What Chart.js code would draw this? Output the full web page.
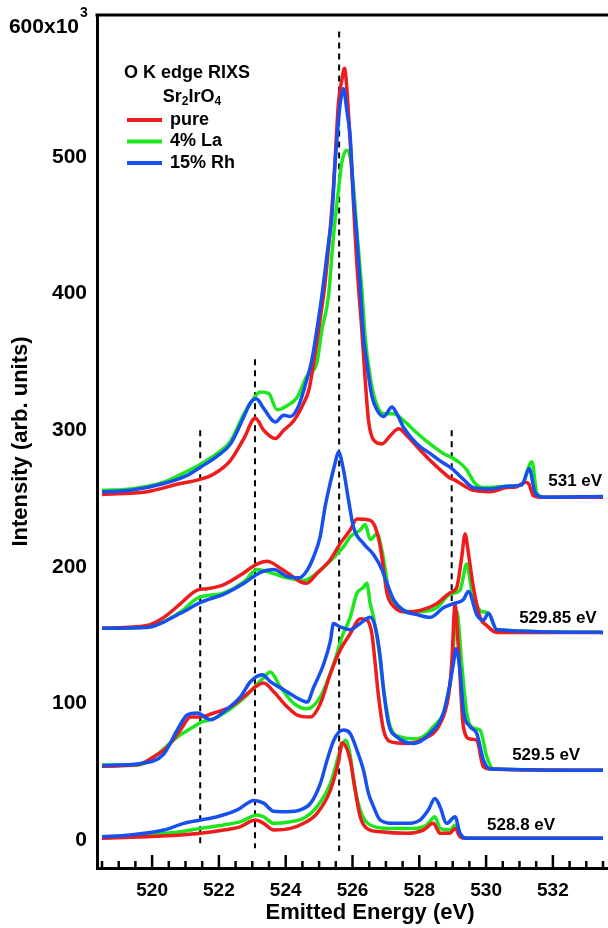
<!DOCTYPE html>
<html>
<head>
<meta charset="utf-8">
<script src="https://cdn.jsdelivr.net/npm/chart.js@4.4.0/dist/chart.umd.min.js"></script>
<style>
  html, body { margin: 0; padding: 0; background: #fff; }
  #wrap { width: 608px; height: 928px; position: relative; }
</style>
</head>
<body>
<div id="wrap"><canvas id="rixs"></canvas></div>
<script>
// [emitted energy (eV), intensity (x10^3)]
// 531 eV excitation
const pure531 = [[518.5,253],[519.85,255],[520.85,261],[521.35,263.5],[521.85,268],[522.35,278],[522.75,294],[523.09,309],[523.34,300],[523.69,294],[523.94,300],[524.24,307],[524.54,320],[524.7,330],[524.85,351],[525.03,381],[525.18,408],[525.33,447],[525.43,478],[525.51,512],[525.58,540],[525.68,556],[525.76,565],[525.88,532],[526.13,422],[526.28,373],[526.38,337],[526.48,307],[526.63,293],[526.88,290],[527.13,296],[527.38,301],[527.63,296],[527.93,288],[528.32,278],[528.72,269],[528.92,265],[529.02,264],[529.62,256],[530.12,255],[530.62,258],[530.92,258.6],[531.17,262],[531.27,261],[531.42,252],[531.62,251],[533.5,251]];
const la531 = [[518.5,256],[519.35,257],[520.35,262],[521.05,270],[521.45,275],[521.95,283],[522.35,292],[522.75,312],[522.95,320],[523.24,328],[523.49,327],[523.74,315],[524.04,318],[524.34,324],[524.64,340],[524.93,349],[525.08,373],[525.28,398],[525.43,442],[525.58,476],[525.68,496],[525.83,505],[525.93,500],[526.03,478],[526.13,446],[526.28,403],[526.38,368],[526.53,339],[526.68,322],[526.93,312],[527.23,312],[527.53,307],[527.93,298],[528.32,290],[528.72,283],[528.97,280],[529.22,276],[529.42,271],[529.67,261],[529.92,258],[530.62,259],[531.07,260],[531.37,277],[531.52,254],[531.72,251],[533.5,251]];
const rh531 = [[518.5,255],[519.35,256],[520.35,261],[521.05,267],[521.45,273],[521.95,281],[522.35,290],[522.75,310],[522.94,320],[523.12,323],[523.34,316],[523.69,306],[523.94,311],[524.14,310],[524.39,318],[524.62,336],[524.78,351],[524.93,373],[525.08,398],[525.18,417],[525.28,437],[525.38,456],[525.48,496],[525.53,512],[525.63,539],[525.73,550],[525.83,534],[525.93,515],[526.03,471],[526.13,442],[526.23,405],[526.33,368],[526.43,349],[526.58,325],[526.73,315],[526.93,310],[527.18,317],[527.33,312],[527.53,302],[527.93,290],[528.32,283],[528.72,276],[528.97,272],[529.32,264],[529.62,258],[530.12,257],[530.62,259],[531.07,260],[531.29,272],[531.47,254],[531.72,251],[533.5,251.5]];

// 529.85 eV excitation
const pure52985 = [[518.5,155],[519.85,157],[520.35,163],[520.85,173],[521.35,183],[521.65,184],[522.15,187],[522.65,194],[523.14,202],[523.44,204],[523.84,199],[524.14,194],[524.44,189],[524.63,188],[524.93,195],[525.33,205],[525.63,217],[525.93,227],[526.13,235],[526.53,234],[526.68,229],[526.83,215],[526.93,198],[527.03,181],[527.23,171],[527.63,167],[528.02,168],[528.52,173],[528.92,181],[529.12,185],[529.27,207],[529.37,224],[529.47,210],[529.62,185],[529.82,163],[530.02,157],[530.32,152],[533.5,152]];
const la52985 = [[518.5,155],[519.85,156],[520.85,167],[521.35,177],[522.15,181],[522.75,189],[523.14,198],[523.64,195],[524.04,192],[524.54,190],[525.14,200],[525.74,215],[525.93,222],[526.23,227],[526.38,231],[526.53,220],[526.73,224],[526.88,212],[526.98,198],[527.08,183],[527.33,171],[527.93,167],[528.52,170],[528.92,180],[529.22,183],[529.42,202],[529.57,183],[529.82,168],[530.07,166],[530.32,154],[533.5,152]];
const rh52985 = [[518.5,155],[519.85,155.6],[520.85,166],[521.45,174],[522.15,180],[522.75,188],[523.24,196],[523.64,198],[524.04,193],[524.4,192],[524.63,197],[524.83,207],[525.03,222],[525.18,244],[525.33,261],[525.48,276],[525.58,284],[525.73,271],[525.88,249],[526.03,229],[526.33,217],[526.63,209],[526.88,198],[527.03,188],[527.23,176],[527.53,168],[527.93,165],[528.32,163],[528.72,170],[529.02,173],[529.32,176],[529.47,182],[529.72,165],[529.92,161],[530.07,166],[530.32,154],[533.5,152]];

// 529.5 eV excitation
const pure5295 = [[518.5,54],[519.55,55],[520.05,61],[520.45,68],[520.85,80.5],[521.15,90],[521.45,90],[521.85,93],[522.35,97.6],[522.75,105],[523.14,113],[523.34,115],[523.64,108.6],[524.04,97.6],[524.34,91.5],[524.74,90],[525.04,100],[525.34,122],[525.63,139],[525.93,151],[526.23,162],[526.43,161],[526.58,151],[526.68,129],[526.78,105],[526.93,80.5],[527.13,72],[527.63,70.7],[528.12,74],[528.62,85],[528.87,105],[528.97,129],[529.07,172],[529.17,141],[529.32,83],[529.52,74],[529.72,73],[529.92,53.6],[530.12,52],[533.5,51]];
const la5295 = [[518.5,55],[519.55,55],[520.85,77],[521.25,83],[521.45,86],[521.95,90],[522.75,104],[523.34,119],[523.54,123],[523.84,112],[524.24,100],[524.64,96],[525.04,105],[525.44,129],[525.69,149],[525.93,163],[526.13,180.5],[526.33,185],[526.43,188],[526.53,173],[526.63,163],[526.78,141],[526.93,110],[527.13,83],[527.43,75.5],[527.93,74],[528.42,83],[528.82,100],[528.97,124],[529.12,168],[529.27,129],[529.42,93],[529.62,82],[529.82,80.5],[530.02,61],[530.22,52],[533.5,51]];
const rh5295 = [[518.5,54.5],[519.65,56],[520.35,63],[520.75,80.5],[521.05,91.5],[521.35,93],[521.75,88],[522.15,94],[522.65,105],[522.95,116],[523.3,121],[523.54,116],[523.94,110],[524.34,104],[524.64,101],[524.84,112],[525.14,129],[525.34,146],[525.43,158.5],[525.63,156],[525.93,154],[526.23,158.5],[526.53,163],[526.68,156],[526.83,134],[526.93,110],[527.08,85],[527.33,75.5],[527.83,70.7],[528.32,78],[528.72,93],[528.92,114.6],[529.02,129],[529.1,140],[529.22,124],[529.32,95],[529.52,83],[529.72,78],[529.92,58.6],[530.12,52],[533.5,51]];

// 528.8 eV excitation
const pure5288 = [[518.5,1.2],[519.85,2.4],[520.85,3.7],[521.45,4.9],[522.15,7.3],[522.65,9.8],[523.09,14.6],[523.34,12.2],[523.64,7.3],[524.14,8.5],[524.54,12.2],[524.94,19.5],[525.34,36.6],[525.59,58.6],[525.68,71],[525.73,70.7],[525.93,58.6],[526.08,36.6],[526.23,17],[526.43,8.5],[526.83,6],[527.63,4.9],[528.12,7.3],[528.42,12.2],[528.62,4.9],[528.92,4.9],[529.07,8.5],[529.22,2.4],[529.42,1.2],[533.5,1.2]];
const la5288 = [[518.5,2],[519.85,3.7],[520.85,6],[521.45,8.5],[522.15,11],[522.65,13.4],[523.14,18.3],[523.34,17],[523.64,12.2],[524.14,13.4],[524.54,15.9],[524.94,24.4],[525.34,41.5],[525.64,66],[525.79,73],[525.93,62],[526.03,44],[526.23,22],[526.53,11],[527.13,8.5],[527.83,8.5],[528.22,11],[528.47,17],[528.62,8.5],[528.92,7.3],[529.07,11],[529.27,2.4],[529.42,1.2],[533.5,1.2]];
const rh5288 = [[518.5,2.4],[519.35,3.7],[520.35,7.3],[520.95,12.2],[521.45,14.6],[521.95,17],[522.55,22],[523.05,29],[523.34,27],[523.64,21],[524.04,20.7],[524.44,22],[524.74,26.8],[525.04,41.5],[525.24,58.6],[525.44,73],[525.59,79],[525.73,80.5],[525.93,78],[526.13,66],[526.33,51],[526.48,34],[526.63,24.4],[526.83,14.6],[527.23,12.2],[527.63,12.2],[528.02,14.6],[528.27,22],[528.47,30.4],[528.62,24.4],[528.82,12.2],[529.07,17],[529.22,4.9],[529.42,1.2],[533.5,1.2]];

const sampleNames = ["pure", "4% La", "15% Rh"];
const excitationLabels = ["531 eV", "529.85 eV", "529.5 eV", "528.8 eV"];
const xTickLabels = [520, 522, 524, 526, 528, 530, 532];
const yTickValues = [0, 100, 200, 300, 400, 500, 600];
// dashed guide lines: energy, bottom and top (x10^3)
const guideEnergy = [521.44, 523.08, 525.6, 528.97];
const guideBottom = [-6, -6, -8, 175];
const guideTop = [300, 352, 592, 300];

const RED = "#ee1c1c";
const GREEN = "#1ee61e";
const BLUE = "#1650ee";
const FONT = "'Liberation Sans', Arial, sans-serif";

const toXY = arr => arr.map(p => ({ x: p[0], y: p[1] }));

const line = (data, color) => ({
  data: toXY(data),
  borderColor: color,
  borderWidth: 3.5,
  pointRadius: 0,
  fill: false,
  cubicInterpolationMode: "monotone",
});

// dataset 0 is drawn on top, so blue goes first, green last
const datasets = [
  ...[rh531, rh52985, rh5295, rh5288].map(d => line(d, BLUE)),
  ...[pure531, pure52985, pure5295, pure5288].map(d => line(d, RED)),
  ...[la531, la52985, la5295, la5288].map(d => line(d, GREEN)),
];

const xMinorTicks = [];
for (let v = 518.5; v <= 533.5; v += 0.5) xMinorTicks.push(v);

const decor = {
  id: "decor",
  beforeDatasetsDraw(chart) {
    const { ctx, scales: { x, y } } = chart;
    ctx.save();
    ctx.strokeStyle = "#000";
    ctx.lineWidth = 2;
    ctx.setLineDash([6, 5]);
    guideEnergy.forEach((e, i) => {
      const px = x.getPixelForValue(e);
      ctx.beginPath();
      ctx.moveTo(px, y.getPixelForValue(guideTop[i]));
      ctx.lineTo(px, y.getPixelForValue(guideBottom[i]));
      ctx.stroke();
    });
    ctx.restore();
  },
  afterDraw(chart) {
    const { ctx, chartArea: a, scales: { x, y } } = chart;
    ctx.save();
    ctx.fillStyle = "#000";
    ctx.strokeStyle = "#000";

    // top frame line
    ctx.lineWidth = 3;
    ctx.beginPath();
    ctx.moveTo(a.left - 1.5, a.top);
    ctx.lineTo(a.right, a.top);
    ctx.stroke();

    // inward tick marks on the bottom axis
    ctx.lineWidth = 2.5;
    xMinorTicks.forEach(v => {
      const px = x.getPixelForValue(v);
      const len = xTickLabels.includes(v) ? 13 : 7;
      ctx.beginPath();
      ctx.moveTo(px, a.bottom);
      ctx.lineTo(px, a.bottom - len);
      ctx.stroke();
    });

    // 600x10^3 label
    ctx.textBaseline = "middle";
    ctx.textAlign = "right";
    ctx.font = "bold 21px " + FONT;
    ctx.fillText(yTickValues[6] + "x10", 79, 27);
    ctx.textAlign = "left";
    ctx.font = "bold 14px " + FONT;
    ctx.fillText("3", 80, 13);

    // axis titles
    ctx.textAlign = "center";
    ctx.font = "bold 22px " + FONT;
    ctx.fillText("Emitted Energy (eV)", 370, 913);
    ctx.save();
    ctx.translate(21, (a.top + a.bottom) / 2);
    ctx.rotate(-Math.PI / 2);
    ctx.fillText("Intensity (arb. units)", 0, 0);
    ctx.restore();

    // legend block
    ctx.font = "bold 18px " + FONT;
    ctx.fillText("O K edge RIXS", 187, 73);
    const parts = [["Sr", 0], ["2", 1], ["IrO", 0], ["4", 1]];
    const w = parts.reduce((s, p) => {
      ctx.font = (p[1] ? "bold 12px " : "bold 18px ") + FONT;
      return s + ctx.measureText(p[0]).width;
    }, 0);
    let cx = 192 - w / 2;
    ctx.textAlign = "left";
    parts.forEach(p => {
      ctx.font = (p[1] ? "bold 12px " : "bold 18px ") + FONT;
      ctx.fillText(p[0], cx, p[1] ? 102 : 97);
      cx += ctx.measureText(p[0]).width;
    });
    [RED, GREEN, BLUE].forEach((c, i) => {
      const ly = 120 + i * 21.5;
      ctx.strokeStyle = c;
      ctx.lineWidth = 4;
      ctx.beginPath();
      ctx.moveTo(127, ly);
      ctx.lineTo(162, ly);
      ctx.stroke();
      ctx.font = "bold 18px " + FONT;
      ctx.fillText(sampleNames[i], 170, ly);
    });

    // excitation energy labels
    ctx.font = "bold 17px " + FONT;
    const labelAt = [[531.86, 262.8], [530.99, 162.5], [530.78, 62.2], [530.03, 11]];
    excitationLabels.forEach((t, i) => {
      ctx.fillText(t, x.getPixelForValue(labelAt[i][0]), y.getPixelForValue(labelAt[i][1]));
    });
    ctx.restore();
  },
};

const tickFont = size => ({ family: FONT, size: size, weight: "bold" });

new Chart(document.getElementById("rixs"), {
  type: "line",
  data: { datasets },
  options: {
    responsive: true,
    maintainAspectRatio: false,
    animation: false,
    layout: { padding: { top: 15, left: 0, right: 0, bottom: 0 } },
    plugins: { legend: { display: false }, tooltip: { enabled: false } },
    scales: {
      x: {
        type: "linear",
        min: 518.35,
        max: 533.65,
        grid: { display: false, drawTicks: false },
        border: { display: true, color: "#000", width: 3 },
        afterBuildTicks: s => { s.ticks = xTickLabels.map(v => ({ value: v })); },
        afterFit: s => { s.height = 60; s.paddingLeft = 0; s.paddingRight = 0; },
        ticks: {
          autoSkip: false,
          maxRotation: 0,
          padding: 11,
          color: "#000",
          font: tickFont(19),
        },
      },
      y: {
        min: -20.5,
        max: 604,
        grid: { display: false, drawTicks: false },
        border: { display: true, color: "#000", width: 3 },
        afterBuildTicks: s => { s.ticks = yTickValues.filter(v => v < 600).map(v => ({ value: v })); },
        // labels sit well inside the axis span, so no extra room is needed above or below
        afterFit: s => { s.width = 97; s.paddingTop = 0; s.paddingBottom = 0; },
        ticks: {
          padding: 10,
          color: "#000",
          font: tickFont(21),
        },
      },
    },
  },
  plugins: [decor],
});
</script>
</body>
</html>
